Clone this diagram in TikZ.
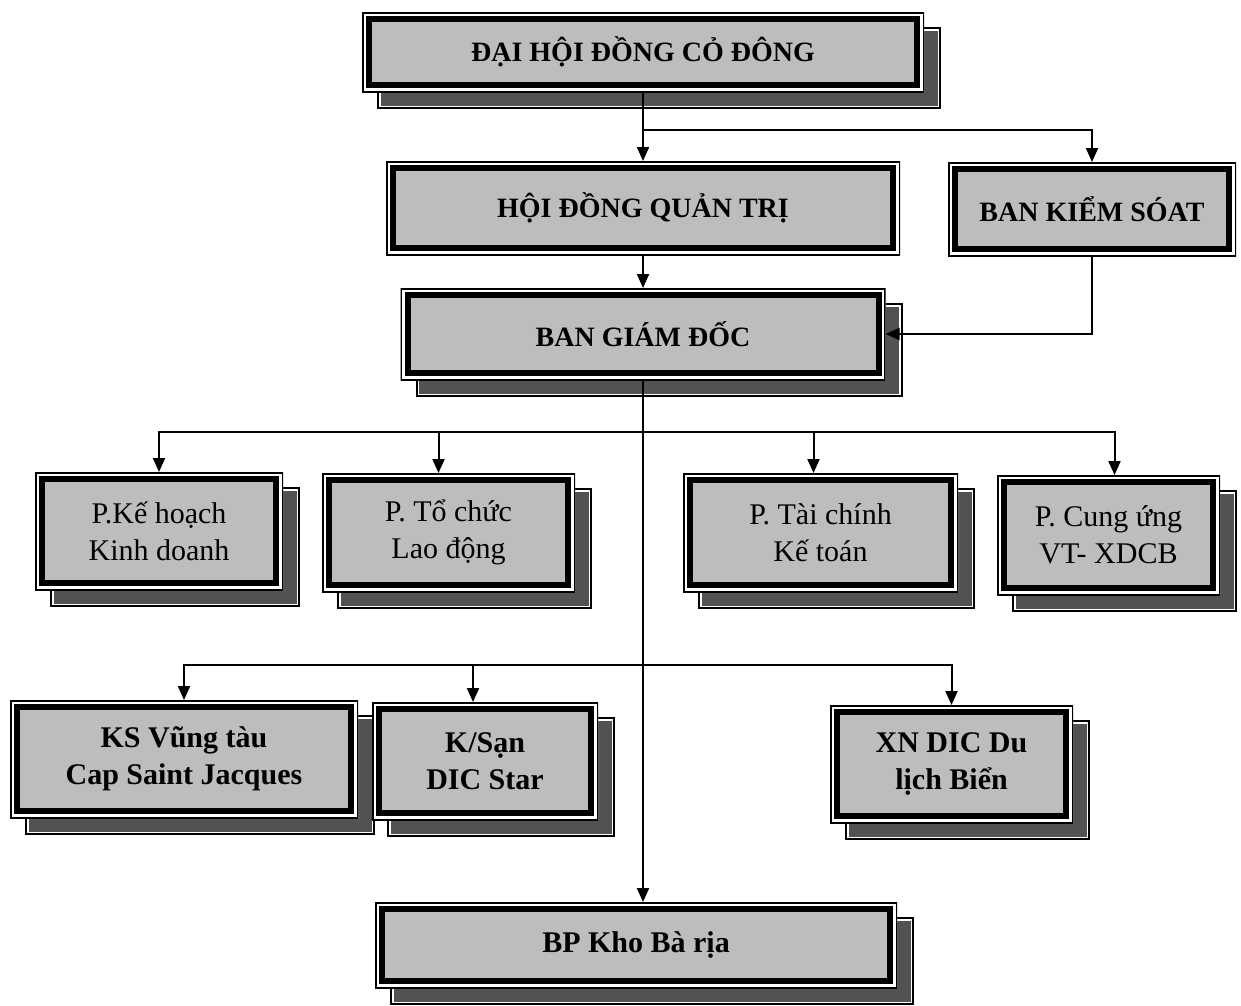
\documentclass[tikz,border=0pt]{standalone}
\usepackage{fontspec}
\setmainfont{Liberation Serif}
\usepackage{tikz}
\usetikzlibrary{arrows.meta,positioning}

\definecolor{boxgray}{gray}{0.74}
\definecolor{shadowgray}{gray}{0.32}

\begin{document}
\begin{tikzpicture}[
		x=1pt, y=-1pt,
		shade/.style={
			preaction={fill=shadowgray, draw=white, line width=5pt, transform canvas={shift={(16pt,-16pt)}}},
			preaction={draw=black, line width=2pt, transform canvas={shift={(16pt,-16pt)}}}},
		box/.style={rectangle, fill=boxgray, inner sep=0pt, outer sep=0pt, align=center,
			path picture={
				\draw[white, line width=8pt] (path picture bounding box.south west) rectangle (path picture bounding box.north east);
				\draw[black, line width=3pt] (path picture bounding box.south west) rectangle (path picture bounding box.north east);
				\draw[black, line width=6pt] ([shift={(7pt,7pt)}]path picture bounding box.south west) rectangle ([shift={(-7pt,-7pt)}]path picture bounding box.north east);
			}},
		headbox/.style={box, font=\fontsize{28}{33}\selectfont\bfseries},
		unitbox/.style={box, font=\fontsize{30}{37}\selectfont},
		boldbox/.style={box, font=\fontsize{30}{37}\selectfont\bfseries},
		line/.style={draw, line width=2pt, -{Triangle[length=14pt,width=12pt]}}
	]
	\useasboundingbox (0,0) rectangle (1241,1005);

	% Top levels
	\node (dhcd) [shade, headbox, minimum width=562pt, minimum height=80pt] at (643,52) {ĐẠI HỘI ĐỒNG CỎ ĐÔNG};
	\node (hdqt) [headbox, minimum width=514pt, minimum height=94pt] at (643,208) {HỘI ĐỒNG QUẢN TRỊ};
	\node (bks) [headbox, minimum width=288pt, minimum height=94pt] at (1092,209) {BAN KIỂM SÓAT};
	\node (bgd) [shade, headbox, minimum width=485pt, minimum height=92pt] at (643,334) {BAN GIÁM ĐỐC};

	% Departments
	\node (pkh) [shade, unitbox, minimum width=248pt, minimum height=118pt] at (159,531) {P.Kế hoạch\\Kinh doanh};
	\node (ptc) [shade, unitbox, minimum width=253pt, minimum height=119pt] at (448.5,532.5) {P. Tổ chức\\Lao động};
	\node (ptckt) [shade, unitbox, minimum width=275pt, minimum height=119pt] at (820.5,532.5) {P. Tài chính\\Kế toán};
	\node (pcu) [shade, unitbox, minimum width=223pt, minimum height=120pt] at (1108.5,535) {P. Cung ứng\\VT- XDCB};

	% Units
	\node (ksvt) [shade, boldbox, minimum width=348pt, minimum height=118pt] at (184,759) {KS Vũng tàu\\Cap Saint Jacques};
	\node (ksan) [shade, boldbox, minimum width=226pt, minimum height=118pt] at (485,761) {K/Sạn\\DIC Star};
	\node (xndic) [shade, boldbox, minimum width=243pt, minimum height=118pt] at (951.5,764) {XN DIC Du\\lịch Biển};
	\node (bpkho) [shade, boldbox, minimum width=522pt, minimum height=86pt] at (636,945) {BP Kho Bà rịa};

	% Lines
	\coordinate (split) at (643,130);
	\coordinate (row1) at (643,432);
	\coordinate (row2) at (643,665);
	\draw [line] (dhcd) -- (hdqt);
	\draw [line] (split) -| (bks.north);
	\draw [line] (hdqt) -- (bgd);
	\draw [line] (bks.south) |- (bgd.east);
	\draw [line] (bgd.south) -- (bgd.south |- bpkho.north);
	\draw [line] (row1) -| (pkh.north);
	\draw [line] (row1) -| ([xshift=-10pt]ptc.north);
	\draw [line] (row1) -| ([xshift=-7pt]ptckt.north);
	\draw [line] (row1) -| ([xshift=6pt]pcu.north);
	\draw [line] (row2) -| (ksvt.north);
	\draw [line] (row2) -| ([xshift=-12pt]ksan.north);
	\draw [line] (row2) -| (xndic.north);
\end{tikzpicture}
\end{document}
